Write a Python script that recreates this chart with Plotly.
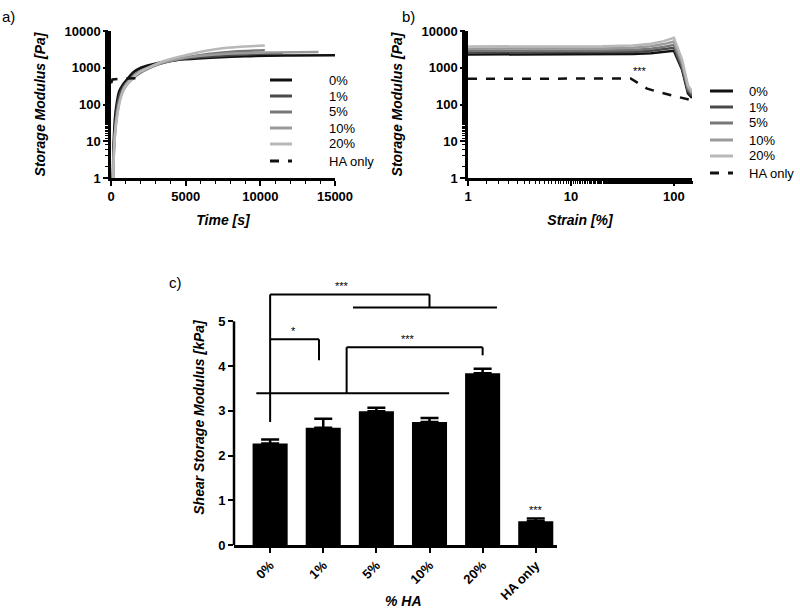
import plotly.graph_objects as go

W, H = 800, 610

# ---------------- Panel a: time sweep ----------------
series_names = ["0%", "1%", "5%", "10%", "20%"]
series_colors = ["#111111", "#4a4a4a", "#777777", "#9a9a9a", "#b8b8b8"]
legend_labels = ["0%", "1%", "5%", "10%", "20%", "HA only"]

time_0 = [120, 160, 200, 280, 400, 550, 800, 1100, 1500, 2000, 3000, 4000, 5000, 7000, 9000, 12000, 15000]
g_time_0 = [1, 5, 15, 50, 120, 230, 350, 500, 750, 1000, 1300, 1550, 1700, 1900, 2050, 2150, 2200]
time_1 = [130, 180, 230, 320, 450, 620, 900, 1250, 1700, 2300, 3300, 4500, 6000, 8000, 10000, 11500]
g_time_1 = [1, 5, 15, 45, 110, 210, 340, 480, 700, 950, 1300, 1650, 1950, 2200, 2400, 2500]
time_5 = [140, 190, 260, 370, 520, 720, 1000, 1400, 1900, 2600, 3600, 5000, 6500, 8500, 10300]
g_time_5 = [1, 5, 15, 45, 110, 200, 320, 480, 700, 1000, 1400, 1900, 2350, 2800, 3000]
time_10 = [150, 200, 300, 450, 650, 900, 1300, 1800, 2500, 3500, 5000, 7000, 9000, 11000, 13900]
g_time_10 = [1, 6, 25, 70, 160, 300, 480, 720, 1000, 1400, 1900, 2300, 2500, 2600, 2700]
time_20 = [150, 200, 300, 450, 650, 900, 1300, 1800, 2500, 3500, 5000, 7000, 9000, 10300]
g_time_20 = [1, 5, 20, 60, 150, 280, 450, 700, 1000, 1500, 2200, 3200, 3800, 4000]
time_ha = [0, 100, 600, 1200, 1800]
g_time_ha = [380, 480, 500, 510, 520]

time_x = [time_0, time_1, time_5, time_10, time_20]
time_y = [g_time_0, g_time_1, g_time_5, g_time_10, g_time_20]

time_ticks = [0, 5000, 10000, 15000]
log_ticks = [1, 10, 100, 1000, 10000]

# ---------------- Panel b: strain sweep ----------------
strain = [1, 5, 10, 20, 40, 60, 80, 100, 120, 137, 150]
g_strain_0 = [2300, 2300, 2300, 2300, 2350, 2500, 2700, 2900, 900, 200, 150]
g_strain_1 = [2600, 2600, 2600, 2620, 2700, 2900, 3200, 3500, 1000, 230, 170]
g_strain_5 = [2900, 2900, 2900, 2950, 3050, 3300, 3700, 4200, 1200, 260, 190]
g_strain_10 = [3300, 3300, 3300, 3350, 3500, 3850, 4400, 5200, 1400, 300, 210]
g_strain_20 = [3800, 3800, 3800, 3850, 4050, 4500, 5300, 6500, 1700, 330, 230]
strain_ha = [1, 5, 10, 20, 38, 45, 55, 70, 90, 120, 150]
g_strain_ha = [500, 500, 500, 510, 510, 380, 270, 220, 185, 155, 130]
strain_y = [g_strain_0, g_strain_1, g_strain_5, g_strain_10, g_strain_20]
strain_ticks = [1, 10, 100]

# ---------------- Panel c: bars ----------------
bar_labels = ["0%", "1%", "5%", "10%", "20%", "HA only"]
bar_values = [2.27, 2.62, 2.99, 2.75, 3.84, 0.53]
bar_errors = [0.09, 0.20, 0.08, 0.09, 0.10, 0.06]

font_family = "Liberation Sans, Arial, sans-serif"

fig = go.Figure()

for name, col, xs, ys in zip(series_names, series_colors, time_x, time_y):
    fig.add_trace(go.Scatter(x=xs, y=ys, mode="lines", name=name,
                             line=dict(color=col, width=2.5, shape="spline"),
                             xaxis="x", yaxis="y", showlegend=False))
fig.add_trace(go.Scatter(x=time_ha, y=g_time_ha, mode="lines", name="HA only",
                         line=dict(color="#111111", width=2.5, dash="dash"),
                         xaxis="x", yaxis="y", showlegend=False))

for name, col, ys in zip(series_names, series_colors, strain_y):
    fig.add_trace(go.Scatter(x=strain, y=ys, mode="lines", name=name,
                             line=dict(color=col, width=2.5),
                             xaxis="x2", yaxis="y2", showlegend=False))
fig.add_trace(go.Scatter(x=strain_ha, y=g_strain_ha, mode="lines", name="HA only",
                         line=dict(color="#111111", width=2.5, dash="dash"),
                         xaxis="x2", yaxis="y2", showlegend=False))

fig.add_trace(go.Bar(x=bar_labels, y=bar_values, width=0.66,
                     marker=dict(color="black", line=dict(width=0)),
                     error_y=dict(type="data", array=bar_errors, symmetric=False,
                                  arrayminus=[0] * len(bar_errors),
                                  color="black", thickness=2.5, width=9),
                     xaxis="x3", yaxis="y3", showlegend=False))

def px_x(v):
    return v / W

def px_y(v):
    return 1 - v / H

tick_font = dict(family=font_family, size=13, color="black", weight="bold")
title_font = dict(family=font_family, size=14, color="black", weight="bold", style="italic")
axis_common = dict(showline=True, linecolor="black", linewidth=2.5, ticks="outside",
                   tickwidth=2, ticklen=5, tickcolor="black", showgrid=False,
                   zeroline=False, tickfont=tick_font, title_font=title_font,
                   automargin=False)

log_minor = dict(ticks="outside", ticklen=3, tickwidth=1, tickcolor="black", showgrid=False)

fig.update_layout(
    width=W, height=H,
    margin=dict(l=0, r=0, t=0, b=0, pad=0),
    paper_bgcolor="white", plot_bgcolor="white",
    font=dict(family=font_family, color="black"),
    showlegend=False,
    xaxis=dict(domain=[px_x(111), px_x(335)], range=[0, 15000],
               tickvals=time_ticks, ticktext=[str(v) for v in time_ticks], anchor="y",
               minor=dict(ticks="outside", ticklen=3, tickwidth=1, tickcolor="black", dtick=1000),
               title=dict(text="Time [s]", standoff=12), **axis_common),
    yaxis=dict(domain=[px_y(178), px_y(31)], type="log", range=[0, 4],
               tickvals=log_ticks, ticktext=[str(v) for v in log_ticks], anchor="x",
               minor=log_minor,
               title=dict(text="Storage Modulus [Pa]", standoff=16), **axis_common),
    xaxis2=dict(domain=[px_x(468), px_x(692)], type="log", range=[0, 2.176],
                tickvals=strain_ticks, ticktext=[str(v) for v in strain_ticks],
                anchor="y2", minor=log_minor,
                title=dict(text="Strain [%]", standoff=12), **axis_common),
    yaxis2=dict(domain=[px_y(178), px_y(31)], type="log", range=[0, 4],
                tickvals=log_ticks, ticktext=[str(v) for v in log_ticks], anchor="x2",
                minor=log_minor,
                title=dict(text="Storage Modulus [Pa]", standoff=16), **axis_common),
    xaxis3=dict(domain=[px_x(234), px_x(557)], range=[-0.68, 5.4], anchor="y3",
                tickangle=-45, **axis_common),
    yaxis3=dict(domain=[px_y(545), px_y(290)], range=[0, 5.7], anchor="x3",
                tickvals=[0, 1, 2, 3, 4, 5],
                title=dict(text="Shear Storage Modulus [kPa]", standoff=10),
                **{k: v for k, v in axis_common.items() if k != "showline"}, showline=False),
    bargap=0.34,
)

# y axis line of panel c (only up to 5)
shapes = [dict(type="line", xref="x3 domain", yref="y3", x0=0, x1=0, y0=0, y1=5,
               line=dict(color="black", width=2.5))]

def seg(x0, y0, x1, y1):
    shapes.append(dict(type="line", xref="x3", yref="y3", x0=x0, y0=y0, x1=x1, y1=y1,
                       line=dict(color="black", width=2)))

# significance brackets (category index positions)
seg(0, 2.75, 0, 5.6)
seg(0, 5.6, 3, 5.6)
seg(3, 5.6, 3, 5.31)
seg(1.56, 5.31, 4.27, 5.31)
seg(0, 4.6, 0.92, 4.6)
seg(0.92, 4.6, 0.92, 4.13)
seg(1.44, 3.39, 1.44, 4.42)
seg(1.44, 4.42, 4.0, 4.42)
seg(4.0, 4.42, 4.0, 4.24)
seg(-0.26, 3.39, 3.37, 3.39)

ann_font = dict(family=font_family, size=11, color="#000000")
annotations = [
    dict(text="***", x=1.35, y=5.6, xref="x3", yref="y3", showarrow=False, yanchor="bottom", font=ann_font),
    dict(text="*", x=0.44, y=4.6, xref="x3", yref="y3", showarrow=False, yanchor="bottom", font=ann_font),
    dict(text="***", x=2.6, y=4.42, xref="x3", yref="y3", showarrow=False, yanchor="bottom", font=ann_font),
    dict(text="***", x=5, y=0.6, xref="x3", yref="y3", showarrow=False, yanchor="bottom", font=ann_font),
    dict(text="***", x=1.67, y=2.92, xref="x2", yref="y2", showarrow=False, yanchor="middle", font=ann_font),
    dict(text="% HA", x=px_x(403), y=px_y(601), xref="paper", yref="paper", showarrow=False,
         xanchor="center", yanchor="middle", font=title_font),
    dict(text="a)", x=px_x(0), y=px_y(16), xref="paper", yref="paper", showarrow=False,
         xanchor="left", yanchor="middle", font=dict(family=font_family, size=15, color="black")),
    dict(text="b)", x=px_x(400), y=px_y(16), xref="paper", yref="paper", showarrow=False,
         xanchor="left", yanchor="middle", font=dict(family=font_family, size=15, color="black")),
    dict(text="c)", x=px_x(167), y=px_y(282), xref="paper", yref="paper", showarrow=False,
         xanchor="left", yanchor="middle", font=dict(family=font_family, size=15, color="black")),
]

# manual legends for panels a and b
legend_colors = series_colors + ["#111111"]
legend_dash = ["solid"] * 5 + ["dash"]
legend_specs = [
    (270, 292, 327, [80, 96, 112, 128, 144, 161]),
    (710, 733, 747, [91, 107, 123, 140, 156, 173]),
]
for lx0, lx1, tx, ys in legend_specs:
    for lab, col, dsh, yy in zip(legend_labels, legend_colors, legend_dash, ys):
        shapes.append(dict(type="line", xref="paper", yref="paper",
                           x0=px_x(lx0), x1=px_x(lx1), y0=px_y(yy), y1=px_y(yy),
                           line=dict(color=col, width=3, dash=dsh)))
        annotations.append(dict(text=lab, x=px_x(tx), y=px_y(yy), xref="paper", yref="paper",
                                showarrow=False, xanchor="left", yanchor="middle",
                                font=dict(family=font_family, size=13, color="black")))

fig.update_layout(shapes=shapes, annotations=annotations)

fig.write_html("out.html", config={"displayModeBar": False},
               post_script="document.body.style.margin='0';document.body.style.overflow='hidden';")
